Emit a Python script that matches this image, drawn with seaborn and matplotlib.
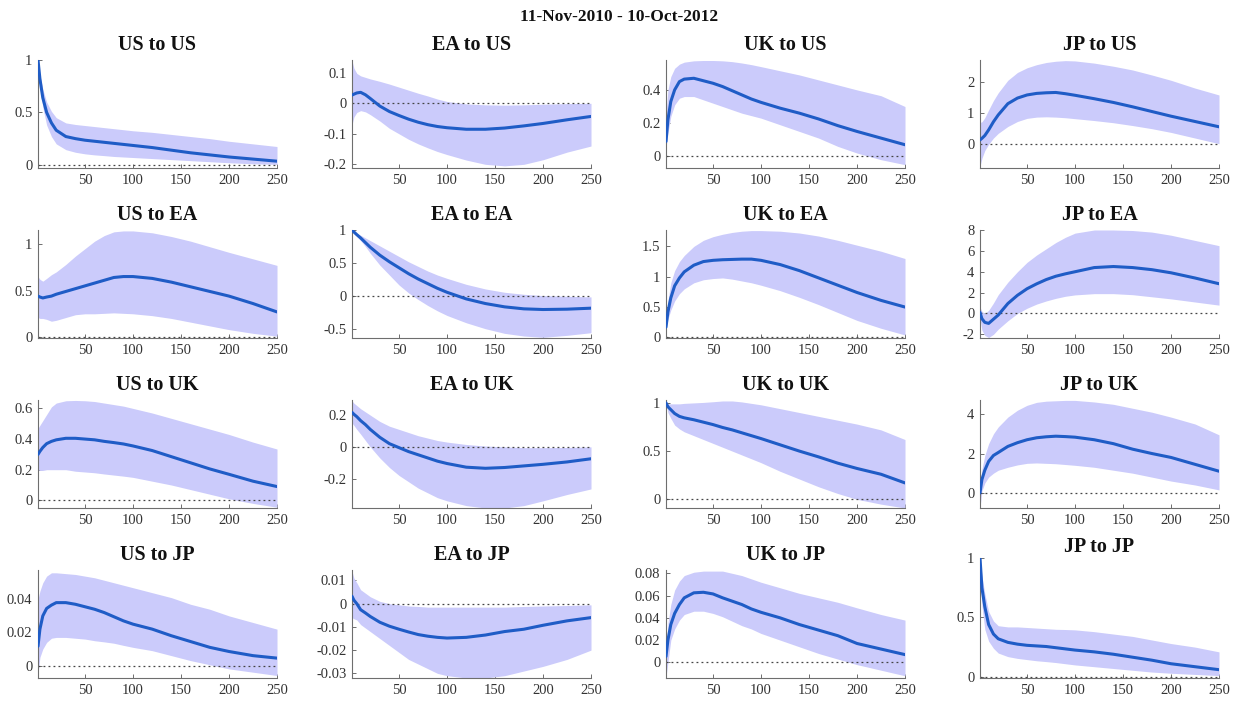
import matplotlib
matplotlib.use("Agg")
import matplotlib.pyplot as plt
import seaborn as sns

# Horizons at which the impulse responses are tabulated
horizon = [1, 3, 6, 10, 15, 20, 30, 40, 50, 60, 70, 80, 90, 100, 120, 140, 160, 180, 200, 225, 250]

# ---- shocks to US ----
us_us = [1.0, 0.82, 0.64, 0.50, 0.40, 0.33, 0.27, 0.25, 0.235, 0.225, 0.215, 0.205, 0.195, 0.185, 0.165, 0.14, 0.115, 0.095, 0.075, 0.055, 0.035]
us_us_hi = [1.0, 0.86, 0.72, 0.60, 0.51, 0.45, 0.40, 0.385, 0.375, 0.365, 0.355, 0.345, 0.335, 0.325, 0.31, 0.29, 0.27, 0.25, 0.225, 0.20, 0.175]
us_us_lo = [1.0, 0.76, 0.55, 0.38, 0.27, 0.20, 0.145, 0.12, 0.105, 0.095, 0.088, 0.08, 0.075, 0.07, 0.06, 0.05, 0.04, 0.03, 0.02, 0.01, 0.005]

ea_us = [0.027, 0.03, 0.034, 0.036, 0.028, 0.016, -0.009, -0.027, -0.04, -0.052, -0.062, -0.07, -0.076, -0.08, -0.085, -0.085, -0.081, -0.074, -0.066, -0.054, -0.043]
ea_us_hi = [0.14, 0.115, 0.098, 0.09, 0.085, 0.08, 0.072, 0.063, 0.053, 0.043, 0.033, 0.024, 0.014, 0.006, -0.002, -0.005, -0.006, -0.005, -0.003, -0.001, 0.0]
ea_us_lo = [-0.07, -0.045, -0.03, -0.024, -0.028, -0.037, -0.058, -0.082, -0.10, -0.118, -0.133, -0.146, -0.158, -0.168, -0.186, -0.20, -0.205, -0.20, -0.185, -0.16, -0.14]

uk_us = [0.09, 0.22, 0.33, 0.40, 0.45, 0.465, 0.47, 0.455, 0.44, 0.42, 0.395, 0.37, 0.345, 0.325, 0.29, 0.26, 0.225, 0.185, 0.15, 0.11, 0.07]
uk_us_hi = [0.25, 0.40, 0.48, 0.53, 0.555, 0.567, 0.575, 0.577, 0.577, 0.575, 0.57, 0.562, 0.552, 0.54, 0.515, 0.49, 0.46, 0.43, 0.40, 0.365, 0.30]
uk_us_lo = [0.05, 0.14, 0.24, 0.31, 0.35, 0.36, 0.36, 0.34, 0.32, 0.30, 0.28, 0.26, 0.245, 0.23, 0.19, 0.15, 0.11, 0.06, 0.02, -0.02, -0.05]

jp_us = [0.14, 0.19, 0.28, 0.46, 0.72, 0.94, 1.3, 1.48, 1.58, 1.63, 1.65, 1.66, 1.62, 1.57, 1.46, 1.34, 1.2, 1.05, 0.9, 0.73, 0.56]
jp_us_hi = [0.7, 0.72, 0.85, 1.1, 1.4, 1.65, 2.05, 2.3, 2.45, 2.55, 2.62, 2.66, 2.68, 2.67, 2.6, 2.5, 2.38, 2.22, 2.05, 1.8, 1.58]
jp_us_lo = [-0.7, -0.45, -0.2, 0.0, 0.2, 0.35, 0.57, 0.73, 0.83, 0.87, 0.88, 0.87, 0.85, 0.82, 0.76, 0.69, 0.6, 0.5, 0.38, 0.2, 0.02]

# ---- shocks to EA ----
us_ea = [0.44, 0.43, 0.42, 0.43, 0.44, 0.46, 0.49, 0.52, 0.55, 0.58, 0.61, 0.64, 0.65, 0.65, 0.63, 0.59, 0.54, 0.49, 0.44, 0.36, 0.27]
us_ea_hi = [0.65, 0.62, 0.60, 0.63, 0.67, 0.70, 0.78, 0.87, 0.95, 1.03, 1.09, 1.13, 1.14, 1.14, 1.12, 1.08, 1.03, 0.97, 0.91, 0.84, 0.77]
us_ea_lo = [0.21, 0.20, 0.20, 0.19, 0.17, 0.18, 0.21, 0.24, 0.25, 0.25, 0.255, 0.26, 0.255, 0.25, 0.23, 0.20, 0.16, 0.12, 0.08, 0.04, 0.01]

ea_ea = [1.0, 0.97, 0.93, 0.88, 0.81, 0.74, 0.62, 0.52, 0.43, 0.34, 0.26, 0.19, 0.12, 0.06, -0.04, -0.11, -0.16, -0.19, -0.20, -0.195, -0.18]
ea_ea_hi = [1.0, 0.98, 0.95, 0.92, 0.88, 0.84, 0.76, 0.68, 0.60, 0.52, 0.45, 0.38, 0.32, 0.27, 0.18, 0.11, 0.06, 0.03, 0.01, 0.0, -0.01]
ea_ea_lo = [1.0, 0.95, 0.90, 0.84, 0.75, 0.65, 0.47, 0.32, 0.17, 0.05, -0.05, -0.14, -0.22, -0.29, -0.40, -0.49, -0.56, -0.60, -0.62, -0.59, -0.55]

uk_ea = [0.17, 0.42, 0.65, 0.85, 0.98, 1.08, 1.19, 1.25, 1.27, 1.28, 1.285, 1.29, 1.29, 1.27, 1.20, 1.10, 0.98, 0.86, 0.74, 0.61, 0.50]
uk_ea_hi = [0.20, 0.60, 0.90, 1.10, 1.25, 1.35, 1.50, 1.60, 1.66, 1.70, 1.73, 1.75, 1.76, 1.76, 1.75, 1.72, 1.67, 1.60, 1.52, 1.42, 1.30]
uk_ea_lo = [0.15, 0.30, 0.45, 0.60, 0.72, 0.80, 0.90, 0.95, 0.97, 0.98, 0.96, 0.93, 0.90, 0.86, 0.77, 0.66, 0.54, 0.41, 0.28, 0.15, 0.04]

jp_ea = [0.1, -0.5, -0.85, -0.95, -0.55, -0.15, 0.95, 1.74, 2.37, 2.84, 3.25, 3.57, 3.8, 4.0, 4.4, 4.5, 4.4, 4.2, 3.9, 3.4, 2.85]
jp_ea_hi = [0.6, 0.2, 0.0, 0.3, 1.0, 1.8, 3.0, 4.0, 4.9, 5.6, 6.2, 6.8, 7.3, 7.7, 8.0, 8.0, 7.95, 7.8, 7.5, 7.0, 6.5]
jp_ea_lo = [-0.5, -1.6, -2.1, -2.3, -2.0, -1.5, -0.7, 0.0, 0.5, 0.9, 1.2, 1.45, 1.65, 1.78, 1.9, 1.9, 1.8, 1.6, 1.4, 1.1, 0.8]

# ---- shocks to UK ----
us_uk = [0.30, 0.32, 0.345, 0.37, 0.385, 0.395, 0.405, 0.405, 0.40, 0.395, 0.385, 0.377, 0.368, 0.355, 0.325, 0.285, 0.245, 0.205, 0.17, 0.125, 0.09]
us_uk_hi = [0.47, 0.49, 0.52, 0.56, 0.61, 0.635, 0.65, 0.652, 0.65, 0.645, 0.635, 0.625, 0.615, 0.60, 0.57, 0.535, 0.50, 0.465, 0.43, 0.38, 0.335]
us_uk_lo = [0.20, 0.195, 0.195, 0.20, 0.20, 0.20, 0.20, 0.19, 0.185, 0.18, 0.172, 0.165, 0.158, 0.15, 0.125, 0.10, 0.07, 0.04, 0.01, -0.02, -0.045]

ea_uk = [0.217, 0.205, 0.19, 0.165, 0.14, 0.11, 0.06, 0.02, -0.005, -0.03, -0.05, -0.07, -0.09, -0.105, -0.128, -0.135, -0.13, -0.12, -0.11, -0.095, -0.075]
ea_uk_hi = [0.29, 0.275, 0.26, 0.24, 0.22, 0.20, 0.16, 0.13, 0.11, 0.09, 0.07, 0.055, 0.04, 0.03, 0.015, 0.005, 0.0, -0.005, -0.005, -0.004, 0.0]
ea_uk_lo = [0.15, 0.135, 0.11, 0.08, 0.04, 0.0, -0.07, -0.13, -0.18, -0.22, -0.26, -0.29, -0.32, -0.34, -0.37, -0.385, -0.385, -0.37, -0.34, -0.30, -0.265]

uk_uk = [1.0, 0.96, 0.93, 0.89, 0.86, 0.845, 0.825, 0.80, 0.775, 0.745, 0.72, 0.69, 0.66, 0.63, 0.565, 0.50, 0.44, 0.375, 0.32, 0.26, 0.17]
uk_uk_hi = [1.0, 0.99, 0.99, 0.99, 0.99, 0.995, 1.0, 1.005, 1.012, 1.02, 1.02, 1.01, 0.995, 0.98, 0.94, 0.90, 0.86, 0.82, 0.78, 0.72, 0.62]
uk_uk_lo = [1.0, 0.90, 0.84, 0.77, 0.73, 0.70, 0.66, 0.62, 0.58, 0.54, 0.50, 0.46, 0.42, 0.38, 0.29, 0.21, 0.13, 0.06, 0.0, -0.05, -0.09]

jp_uk = [0.0, 0.68, 1.15, 1.6, 1.9, 2.05, 2.36, 2.55, 2.7, 2.8, 2.85, 2.88, 2.86, 2.83, 2.7, 2.5, 2.22, 2.0, 1.8, 1.45, 1.1]
jp_uk_hi = [0.2, 1.2, 1.9, 2.5, 3.0, 3.35, 3.85, 4.2, 4.45, 4.6, 4.66, 4.68, 4.7, 4.7, 4.62, 4.5, 4.3, 4.1, 3.85, 3.5, 2.95]
jp_uk_lo = [-0.75, 0.1, 0.5, 0.8, 1.0, 1.15, 1.3, 1.42, 1.5, 1.52, 1.5, 1.48, 1.44, 1.4, 1.3, 1.15, 1.0, 0.8, 0.6, 0.4, 0.15]

# ---- shocks to JP ----
us_jp = [0.0117, 0.022, 0.030, 0.0345, 0.0365, 0.038, 0.038, 0.037, 0.0355, 0.034, 0.032, 0.0295, 0.027, 0.025, 0.022, 0.018, 0.0145, 0.011, 0.0085, 0.006, 0.0045]
us_jp_hi = [0.040, 0.045, 0.050, 0.054, 0.056, 0.056, 0.0555, 0.055, 0.054, 0.053, 0.0515, 0.050, 0.0485, 0.047, 0.044, 0.041, 0.037, 0.034, 0.030, 0.026, 0.022]
us_jp_lo = [-0.005, 0.005, 0.010, 0.014, 0.0165, 0.017, 0.017, 0.0165, 0.016, 0.015, 0.0143, 0.0135, 0.0122, 0.011, 0.009, 0.006, 0.003, 0.0005, -0.002, -0.004, -0.006]

ea_jp = [0.0032, 0.0015, 0.0, -0.0026, -0.004, -0.0055, -0.008, -0.0097, -0.011, -0.0122, -0.0133, -0.014, -0.0145, -0.0148, -0.0145, -0.0135, -0.012, -0.011, -0.0093, -0.0074, -0.006]
ea_jp_hi = [0.014, 0.011, 0.009, 0.006, 0.0045, 0.003, 0.001, 0.0, -0.0005, -0.001, -0.0012, -0.0015, -0.0015, -0.0015, -0.0015, -0.0015, -0.0015, -0.0012, -0.001, -0.0008, -0.0005]
ea_jp_lo = [-0.006, -0.0065, -0.007, -0.009, -0.0105, -0.012, -0.015, -0.018, -0.021, -0.024, -0.026, -0.028, -0.030, -0.031, -0.032, -0.032, -0.031, -0.029, -0.027, -0.024, -0.020]

uk_jp = [0.0054, 0.020, 0.034, 0.044, 0.052, 0.058, 0.0625, 0.063, 0.0615, 0.058, 0.055, 0.052, 0.048, 0.045, 0.040, 0.034, 0.029, 0.024, 0.017, 0.012, 0.007]
uk_jp_hi = [0.010, 0.035, 0.052, 0.065, 0.073, 0.078, 0.081, 0.082, 0.082, 0.082, 0.080, 0.078, 0.075, 0.072, 0.067, 0.062, 0.058, 0.054, 0.049, 0.043, 0.038]
uk_jp_lo = [-0.013, 0.0, 0.020, 0.030, 0.038, 0.043, 0.046, 0.046, 0.044, 0.041, 0.037, 0.033, 0.030, 0.026, 0.020, 0.014, 0.008, 0.003, -0.002, -0.007, -0.012]

jp_jp = [1.0, 0.75, 0.59, 0.44, 0.36, 0.32, 0.29, 0.275, 0.265, 0.26, 0.255, 0.245, 0.235, 0.225, 0.21, 0.19, 0.165, 0.14, 0.11, 0.085, 0.06]
jp_jp_hi = [1.0, 0.85, 0.70, 0.55, 0.47, 0.43, 0.42, 0.42, 0.415, 0.41, 0.405, 0.40, 0.398, 0.395, 0.38, 0.36, 0.34, 0.31, 0.28, 0.25, 0.21]
jp_jp_lo = [1.0, 0.60, 0.40, 0.30, 0.24, 0.20, 0.17, 0.155, 0.145, 0.135, 0.128, 0.12, 0.11, 0.10, 0.085, 0.07, 0.055, 0.04, 0.03, 0.02, 0.01]

titles = [
    "US to US", "EA to US", "UK to US", "JP to US",
    "US to EA", "EA to EA", "UK to EA", "JP to EA",
    "US to UK", "EA to UK", "UK to UK", "JP to UK",
    "US to JP", "EA to JP", "UK to JP", "JP to JP",
]
responses = [
    (us_us, us_us_lo, us_us_hi), (ea_us, ea_us_lo, ea_us_hi), (uk_us, uk_us_lo, uk_us_hi), (jp_us, jp_us_lo, jp_us_hi),
    (us_ea, us_ea_lo, us_ea_hi), (ea_ea, ea_ea_lo, ea_ea_hi), (uk_ea, uk_ea_lo, uk_ea_hi), (jp_ea, jp_ea_lo, jp_ea_hi),
    (us_uk, us_uk_lo, us_uk_hi), (ea_uk, ea_uk_lo, ea_uk_hi), (uk_uk, uk_uk_lo, uk_uk_hi), (jp_uk, jp_uk_lo, jp_uk_hi),
    (us_jp, us_jp_lo, us_jp_hi), (ea_jp, ea_jp_lo, ea_jp_hi), (uk_jp, uk_jp_lo, uk_jp_hi), (jp_jp, jp_jp_lo, jp_jp_hi),
]
y_limits = [
    (-0.03, 1.0), (-0.212, 0.142), (-0.07, 0.58), (-0.76, 2.7),
    (-0.01, 1.15), (-0.63, 1.0), (-0.01, 1.77), (-2.35, 8.0),
    (-0.05, 0.655), (-0.385, 0.295), (-0.09, 1.03), (-0.77, 4.72),
    (-0.0075, 0.0577), (-0.032, 0.0145), (-0.014, 0.083), (-0.01, 1.0),
]
y_ticks = [
    [0, 0.5, 1], [-0.2, -0.1, 0, 0.1], [0, 0.2, 0.4], [0, 1, 2],
    [0, 0.5, 1], [-0.5, 0, 0.5, 1], [0, 0.5, 1, 1.5], [-2, 0, 2, 4, 6, 8],
    [0, 0.2, 0.4, 0.6], [-0.2, 0, 0.2], [0, 0.5, 1], [0, 2, 4],
    [0, 0.02, 0.04], [-0.03, -0.02, -0.01, 0, 0.01], [0, 0.02, 0.04, 0.06, 0.08], [0, 0.5, 1],
]
x_ticks = [50, 100, 150, 200, 250]

sns.set_theme(style="ticks")
plt.rcParams["font.family"] = ["Liberation Serif", "DejaVu Serif"]

W, H = 1239, 705
fig = plt.figure(figsize=(W / 100, H / 100), dpi=100)

col_left = [38, 352, 666, 980]
row_top = [60, 230, 400, 570]
ax_w, ax_h = 239, 108

band_color = "#cbcbfb"
line_color = "#1f5cc6"
axis_color = "#6e6e6e"

for i, (title, (mid, lo, hi)) in enumerate(zip(titles, responses)):
    r, c = divmod(i, 4)
    left, top, w, h = col_left[c], row_top[r], ax_w, ax_h
    title_pad = 7
    if title == "JP to JP":
        # the own-shock panel of the last row is drawn a little taller
        top, h = 558, 120
        title_pad = 4
    ax = fig.add_axes([left / W, 1 - (top + h) / H, w / W, h / H])
    ax.fill_between(horizon, lo, hi, color=band_color, linewidth=0, zorder=1)
    ax.plot([1, 250], [0, 0], linestyle=(0, (1.5, 2.5)), color="#444444", linewidth=0.9, zorder=2)
    sns.lineplot(x=horizon, y=mid, ax=ax, color=line_color, linewidth=2.2, zorder=3)
    ax.set_xlim(1, 250)
    ax.set_ylim(*y_limits[i])
    ax.set_xticks(x_ticks)
    ax.set_xticklabels([str(t) for t in x_ticks])
    ax.set_yticks(y_ticks[i])
    ax.set_yticklabels([f"{t:g}" for t in y_ticks[i]])
    for side in ("top", "right"):
        ax.spines[side].set_visible(False)
    for side in ("left", "bottom"):
        ax.spines[side].set_color(axis_color)
        ax.spines[side].set_linewidth(0.8)
    ax.tick_params(direction="in", length=3, width=0.7, color=axis_color,
                   labelsize=10.5, labelcolor="#333333", pad=4)
    ax.set_title(title, fontsize=14.5, fontweight="bold", pad=title_pad, color="#111111")
    ax.set_xlabel("")
    ax.set_ylabel("")

fig.suptitle("11-Nov-2010 - 10-Oct-2012", fontsize=12.5, fontweight="bold",
             y=1 - 17 / H, va="center", color="#111111")

fig.savefig("out.png", dpi=100, facecolor="white")
